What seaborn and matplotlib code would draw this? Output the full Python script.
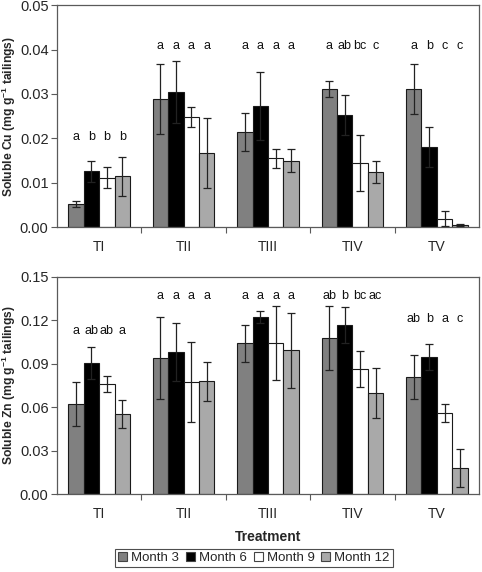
import matplotlib
matplotlib.use("Agg")
import matplotlib.pyplot as plt
import seaborn as sns
import pandas as pd
import numpy as np
from matplotlib.patches import Patch

# ---------------- data ----------------
categories = ["TI", "TII", "TIII", "TIV", "TV"]
months = ["Month 3", "Month 6", "Month 9", "Month 12"]

cu_m3 = [0.0052, 0.0289, 0.0214, 0.0311, 0.0311]
cu_m6 = [0.0126, 0.0305, 0.0273, 0.0253, 0.0181]
cu_m9 = [0.0111, 0.0248, 0.0155, 0.0144, 0.0019]
cu_m12 = [0.0114, 0.0167, 0.0149, 0.0124, 0.0005]
cu_m3_err = [0.0006, 0.0079, 0.0042, 0.0019, 0.0057]
cu_m6_err = [0.0024, 0.0070, 0.0077, 0.0045, 0.0045]
cu_m9_err = [0.0024, 0.0022, 0.0021, 0.0063, 0.0017]
cu_m12_err = [0.0044, 0.0078, 0.0026, 0.0025, 0.0002]

zn_m3 = [0.0622, 0.0940, 0.1041, 0.1078, 0.0811]
zn_m6 = [0.0903, 0.0979, 0.1223, 0.1166, 0.0947]
zn_m9 = [0.0760, 0.0772, 0.1041, 0.0864, 0.0560]
zn_m12 = [0.0553, 0.0779, 0.0993, 0.0698, 0.0180]
zn_m3_err = [0.0153, 0.0280, 0.0130, 0.0218, 0.0152]
zn_m6_err = [0.0110, 0.0200, 0.0044, 0.0124, 0.0088]
zn_m9_err = [0.0058, 0.0276, 0.0256, 0.0124, 0.0062]
zn_m12_err = [0.0097, 0.0134, 0.0258, 0.0173, 0.0131]

cu_letters = [["a", "b", "b", "b"], ["a", "a", "a", "a"], ["a", "a", "a", "a"],
              ["a", "ab", "bc", "c"], ["a", "b", "c", "c"]]
zn_letters = [["a", "ab", "ab", "a"], ["a", "a", "a", "a"], ["a", "a", "a", "a"],
              ["ab", "b", "bc", "ac"], ["ab", "b", "a", "c"]]
cu_letter_y = [0.0203, 0.0409, 0.0409, 0.0409, 0.0409]
zn_letter_y = [0.1129, 0.1366, 0.1366, 0.1366, 0.1210]

cu_ticks = [0.00, 0.01, 0.02, 0.03, 0.04, 0.05]
zn_ticks = [0.00, 0.03, 0.06, 0.09, 0.12, 0.15]

# ---------------- style ----------------
sns.set_theme(style="white")
plt.rcParams["font.family"] = ["Liberation Sans", "DejaVu Sans"]
plt.rcParams["mathtext.fontset"] = "custom"
plt.rcParams["mathtext.rm"] = "Liberation Sans"
plt.rcParams["mathtext.bf"] = "Liberation Sans:bold"

palette = {"Month 3": "#808080", "Month 6": "#000000",
           "Month 9": "#ffffff", "Month 12": "#a9a9a9"}
spine_col = "#5a5a5a"

fig = plt.figure(figsize=(4.82, 5.72), dpi=100)
ax1 = fig.add_axes([0.118, 0.603, 0.876, 0.388])
ax2 = fig.add_axes([0.118, 0.136, 0.876, 0.380])


def make_df(vals, errs):
    rows = []
    for m, v, e in zip(months, vals, errs):
        for c, vv, ee in zip(categories, v, e):
            rows.append({"Treatment": c, "Month": m, "value": vv, "err": ee})
    return pd.DataFrame(rows)


def draw(ax, df, ticks, ylabel, letters, letter_y):
    sns.barplot(data=df, x="Treatment", y="value", hue="Month",
                order=categories, hue_order=months, palette=palette,
                errorbar=None, width=0.73, gap=0, edgecolor="#1a1a1a",
                linewidth=0.8, saturation=1, legend=False, ax=ax)
    for mi, (m, cont) in enumerate(zip(months, ax.containers)):
        sub = df[df["Month"] == m].set_index("Treatment").loc[categories]
        xs = [p.get_x() + p.get_width() / 2 for p in cont.patches]
        hs = [p.get_height() for p in cont.patches]
        ax.errorbar(xs, hs, yerr=sub["err"].values, fmt="none",
                    ecolor="#222222", elinewidth=0.9, capsize=3,
                    capthick=0.9, zorder=5)
        for ci, x in enumerate(xs):
            ax.text(x, letter_y[ci], letters[ci][mi], ha="center",
                    va="center", fontsize=9, color="#111111")
    ax.set_ylim(ticks[0], ticks[-1])
    ax.set_xlim(-0.5, len(categories) - 0.5)
    ax.set_yticks(ticks)
    ax.set_yticklabels([f"{t:.2f}" for t in ticks], fontsize=10.5)
    ax.set_xticks(range(len(categories)))
    ax.set_xticklabels(categories, fontsize=10)
    ax.set_xticks(np.arange(0.5, len(categories) - 1, 1.0), minor=True)
    ax.tick_params(axis="x", which="major", length=0, pad=9)
    ax.tick_params(axis="x", which="minor", length=4, width=0.8,
                   color=spine_col, direction="out", bottom=True)
    ax.tick_params(axis="y", which="major", length=4, width=0.8,
                   color=spine_col, direction="out", left=True, pad=2)
    for s in ax.spines.values():
        s.set_color(spine_col)
        s.set_linewidth(0.9)
    ax.set_xlabel("")
    ax.set_ylabel(ylabel, fontsize=8.7, fontweight="bold")
    ax.yaxis.set_label_coords(-0.092, 0.5)


draw(ax1, make_df([cu_m3, cu_m6, cu_m9, cu_m12],
                  [cu_m3_err, cu_m6_err, cu_m9_err, cu_m12_err]),
     cu_ticks, r"Soluble Cu (mg g$^{\mathbf{-1}}$ tailings)",
     cu_letters, cu_letter_y)
draw(ax2, make_df([zn_m3, zn_m6, zn_m9, zn_m12],
                  [zn_m3_err, zn_m6_err, zn_m9_err, zn_m12_err]),
     zn_ticks, r"Soluble Zn (mg g$^{\mathbf{-1}}$ tailings)",
     zn_letters, zn_letter_y)
ax2.set_xlabel("Treatment", fontsize=10, fontweight="bold", labelpad=7)

handles = [Patch(facecolor=palette[m], edgecolor="#444444", linewidth=0.8)
           for m in months]
leg = fig.legend(handles, months, loc="center", ncol=4,
                 bbox_to_anchor=(0.527, 0.0245), frameon=True,
                 fancybox=False, edgecolor="#222222", fontsize=9.5,
                 handlelength=0.7, handleheight=0.7, handletextpad=0.3,
                 columnspacing=0.5, borderpad=0.25, borderaxespad=0)
leg.get_frame().set_linewidth(0.8)

fig.savefig("out.png", dpi=100, facecolor="white")
